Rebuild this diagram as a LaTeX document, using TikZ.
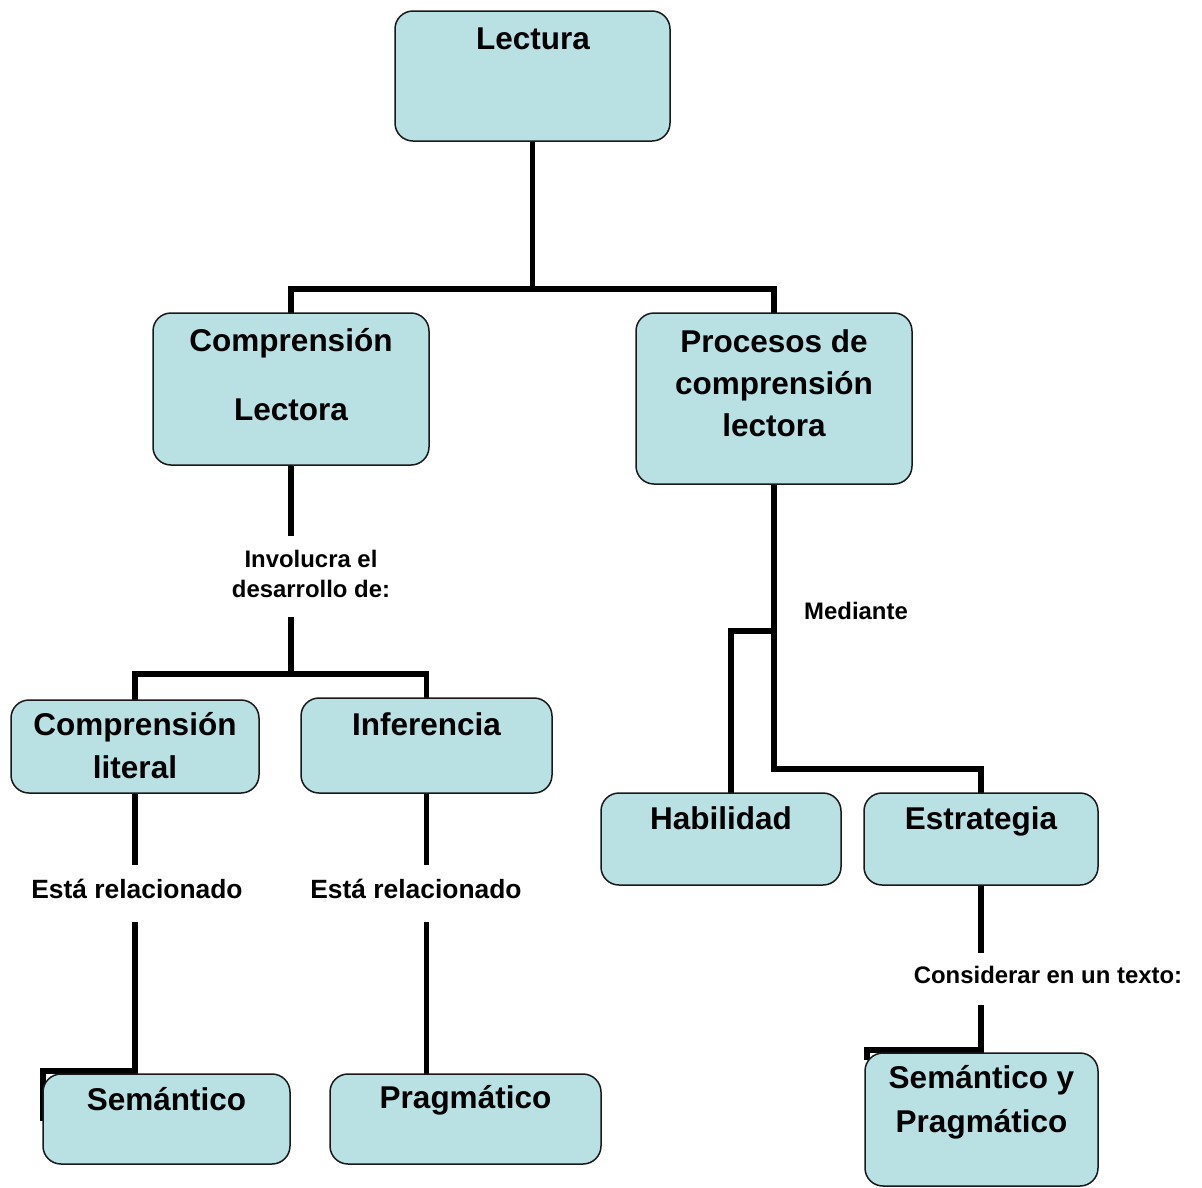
\documentclass[tikz,border=0pt]{standalone}
\usepackage{fontspec}
\setmainfont{Liberation Sans}
\definecolor{boxfill}{RGB}{185,224,227}
\pgfdeclarelayer{paper}
\pgfdeclarelayer{bg}
\pgfsetlayers{paper,bg,main}
\begin{document}
\begin{tikzpicture}[x=1pt,y=-1pt,
  box/.style={draw=black!90, line width=1.5pt, fill=boxfill, rounded corners=18pt, inner sep=0pt},
  title/.style={font=\bfseries\fontsize{31.5}{42}\selectfont, align=center, anchor=base, inner sep=0pt},
  tag/.style={font=\bfseries\fontsize{23.9}{30}\selectfont, align=center, anchor=base, inner sep=0pt},
  bigtag/.style={tag, font=\bfseries\fontsize{26.4}{32}\selectfont},
  link/.style={line width=5.4pt, line join=miter, line cap=rect},
]
\begin{pgfonlayer}{paper}
  \fill[white] (0,0) rectangle (1202,1187);
\end{pgfonlayer}
\useasboundingbox (0,0) rectangle (1202,1187);

% boxes
\node[box, minimum width=275, minimum height=130] (lectura)  at (532.5,76)   {};
\node[box, minimum width=276, minimum height=152] (complect) at (291,389)    {};
\node[box, minimum width=276, minimum height=171] (procesos) at (774,398.5)  {};
\node[box, minimum width=248, minimum height=93]  (literal)  at (135,746.5)  {};
\node[box, minimum width=251, minimum height=95]  (infer)    at (426.5,745.5){};
\node[box, minimum width=240, minimum height=92]  (habil)    at (721,839)    {};
\node[box, minimum width=234, minimum height=92]  (estrat)   at (981,839)    {};
\node[box, minimum width=247, minimum height=90]  (semant)   at (166.5,1119) {};
\node[box, minimum width=271, minimum height=90]  (pragm)    at (465.5,1119) {};
\node[box, minimum width=233, minimum height=133] (sempra)   at (981.5,1119.5){};

% box titles (anchored on the baseline of the last line)
\node[title] (tLectura)  at (533,49)  {Lectura};
\node[title, font=\bfseries\fontsize{31.5}{69}\selectfont] (tComplect) at (291,420) {Comprensión\\Lectora};
\node[title] (tProcesos) at (774,436) {Procesos de\\comprensión\\lectora};
\node[title, font=\bfseries\fontsize{31.5}{43}\selectfont] (tLiteral) at (135,778) {Comprensión\\literal};
\node[title] (tInfer)    at (426.5,735) {Inferencia};
\node[title] (tHabil)    at (721,829) {Habilidad};
\node[title] (tEstrat)   at (981,829) {Estrategia};
\node[title] (tSemant)   at (166.5,1110) {Semántico};
\node[title] (tPragm)    at (465.5,1108) {Pragmático};
\node[title, font=\bfseries\fontsize{31.5}{44}\selectfont] (tSempra) at (981.5,1132) {Semántico y\\Pragmático};

% connector labels
\node[tag] (lInvol)  at (311,597.5) {Involucra el\\desarrollo de:};
\node[tag] (lMed)    at (856,619.5) {Mediante};
\node[bigtag] (lRel1) at (137,898) {Está relacionado};
\node[bigtag] (lRel2) at (416,898) {Está relacionado};
\node[tag] (lCons)   at (1048,983.5) {Considerar en un texto:};

% junction points of the connectors
\coordinate (j1) at (532.5,289);
\coordinate (c1a) at (291,533);
\coordinate (c1b) at (291,620);
\coordinate (j2) at (291,674);
\coordinate (j3) at (774,631);
\coordinate (j4) at (774,769);
\coordinate (h1) at (731,793);
\coordinate (r1a) at (135,862);
\coordinate (r1b) at (135,925);
\coordinate (r1c) at (135,1071);
\coordinate (r1d) at (43,1071);
\coordinate (r1e) at (43,1118);
\coordinate (r2a) at (426.5,862);
\coordinate (r2b) at (426.5,925);
\coordinate (r2c) at (426.5,1074);
\coordinate (e1) at (981,950);
\coordinate (e2) at (981,1008);
\coordinate (e3) at (981,1050);
\coordinate (e4) at (867,1050);
\coordinate (e5) at (867,1057);

\begin{pgfonlayer}{bg}
  \draw[link] (lectura.south) -- (j1);
  \draw[link] (complect.north) |- (j1) -| (procesos.north);
  \draw[link] (complect.south) -- (c1a);
  \draw[link] (c1b) -- (j2);
  \draw[link] (literal.north) |- (j2) -| (infer.north);
  \draw[link] (procesos.south) -- (j4) -| (estrat.north);
  \draw[link] (j3) -| (h1);
  \draw[link] (literal.south) -- (r1a);
  \draw[link] (r1b) -- (r1c) -- (r1d) -- (r1e);
  \draw[link] (infer.south) -- (r2a);
  \draw[link] (r2b) -- (r2c);
  \draw[link] (estrat.south) -- (e1);
  \draw[link] (e2) -- (e3) -- (e4) -- (e5);
\end{pgfonlayer}
\end{tikzpicture}
\end{document}
